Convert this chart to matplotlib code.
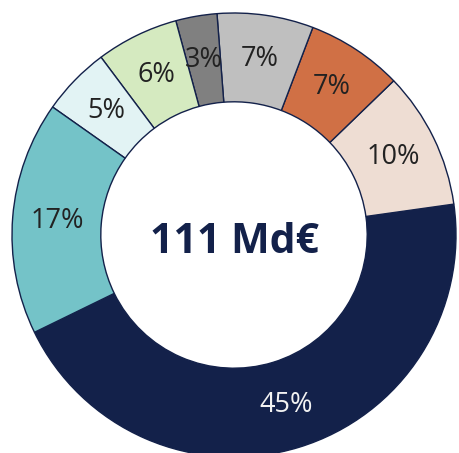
import matplotlib.pyplot as plt

# share of each component, counterclockwise starting from the big slice
labels = ["A", "B", "C", "D", "E", "F", "G", "H"]
shares = [45, 10, 7, 7, 3, 6, 5, 17]
colors = ["#13214A", "#EEDDD3", "#D07045", "#BFBFBF",
          "#808080", "#D5EAC0", "#E2F3F4", "#74C3C8"]
text_colors = ["#F2F2F2", "#222222", "#222222", "#222222",
               "#222222", "#222222", "#222222", "#222222"]
total_label = "111 Md€"

plt.rcParams["font.family"] = ["Open Sans", "DejaVu Sans"]

fig = plt.figure(figsize=(4.59, 4.53), dpi=100)
W, H = 459, 453
cx, cy, r = 234, 235, 222
ax = fig.add_axes([(cx - r) / W, (H - cy - r) / H, 2 * r / W, 2 * r / H])

wedges, texts, autotexts = ax.pie(
    shares, colors=colors, startangle=-154, counterclock=True,
    autopct="%.0f%%", pctdistance=0.8,
    wedgeprops=dict(width=0.4, edgecolor="#13214A", linewidth=1.0),
    textprops=dict(fontsize=19.5),
)
for t, c in zip(autotexts, text_colors):
    t.set_color(c)

ax.text(0, -0.035, total_label, ha="center", va="center",
        fontsize=29.5, fontweight="bold", color="#13214A")

ax.set_xlim(-1, 1)
ax.set_ylim(-1, 1)
ax.set_aspect("equal")
ax.axis("off")

fig.savefig("out.png", dpi=100)
